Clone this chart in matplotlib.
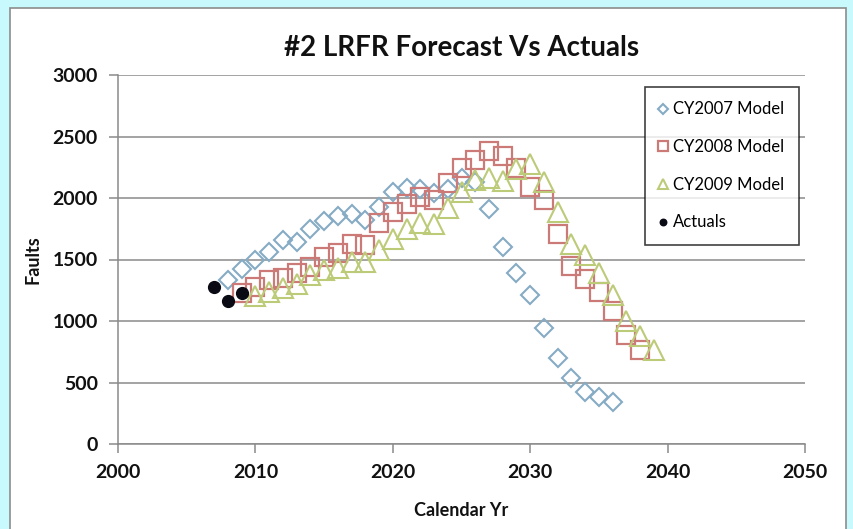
import matplotlib
matplotlib.use("Agg")
import matplotlib.pyplot as plt
from matplotlib.patches import Rectangle

# ---- data ----
years_2007 = list(range(2008, 2037))
cy2007 = [1330, 1420, 1500, 1565, 1655, 1645, 1745, 1810, 1855, 1870, 1820, 1925,
          2045, 2085, 2075, 2040, 2075, 2165, 2130, 1910, 1600, 1390, 1215, 940,
          700, 535, 425, 385, 345]

years_2008 = list(range(2009, 2039))
cy2008 = [1230, 1280, 1330, 1350, 1390, 1440, 1520, 1555, 1630, 1620, 1795, 1890,
          1955, 2010, 1985, 2125, 2245, 2310, 2385, 2340, 2240, 2090, 1985, 1710,
          1450, 1345, 1235, 1085, 890, 768]

years_2009 = list(range(2010, 2040))
cy2009 = [1205, 1235, 1270, 1300, 1375, 1415, 1430, 1480, 1480, 1575, 1670, 1750,
          1800, 1785, 1920, 2045, 2150, 2165, 2140, 2235, 2280, 2130, 1890, 1630,
          1535, 1390, 1215, 1000, 875, 765]

years_act = [2007, 2008, 2009]
actuals = [1275, 1160, 1230]

title = "#2 LRFR Forecast Vs Actuals"
xlabel = "Calendar Yr"
ylabel = "Faults"
xticks = [2000, 2010, 2020, 2030, 2040, 2050]
yticks = [0, 500, 1000, 1500, 2000, 2500, 3000]

plt.rcParams['font.family'] = ['Lato', 'DejaVu Sans']

W, H = 854, 529
fig = plt.figure(figsize=(W / 100, H / 100), dpi=100)
fig.patch.set_facecolor('#c8f9fd')
# white chart area with grey border
bg = Rectangle((10 / W, -0.05), 836 / W, 1 - 8 / H + 0.05,
               transform=fig.transFigure, facecolor='white',
               edgecolor='#8c8c8c', linewidth=1.2, zorder=-10)
fig.add_artist(bg)

ax = fig.add_axes([118 / W, 1 - 444 / H, (805 - 118) / W, (444 - 75) / H])
ax.set_zorder(5)
ax.set_facecolor('white')

ax.plot(years_2007, cy2007, linestyle='none', marker='D', ms=9.5, mfc='none',
        mec='#86abc4', mew=1.5, label='CY2007 Model', zorder=3)
ax.plot(years_2008, cy2008, linestyle='none', marker='s', ms=13.5, mfc='none',
        mec='#cc7a78', mew=1.6, label='CY2008 Model', zorder=3)
ax.plot(years_2009, cy2009, linestyle='none', marker='^', ms=14, mfc='none',
        mec='#bccb78', mew=1.5, label='CY2009 Model', zorder=3)
ax.plot(years_act, actuals, linestyle='none', marker='o', ms=8.5, mfc='#0a0a14',
        mec='#0a0a14', label='Actuals', zorder=4)

ax.set_xlim(2000, 2050)
ax.set_ylim(0, 3000)
ax.set_xticks(xticks)
ax.set_yticks(yticks)
ax.yaxis.grid(True, color='#8a8a8a', linewidth=1.1)
ax.set_axisbelow(True)
for s in ['top', 'right']:
    ax.spines[s].set_visible(False)
for s in ['left', 'bottom']:
    ax.spines[s].set_color('#8a8a8a')
    ax.spines[s].set_linewidth(1.1)
ax.tick_params(axis='both', colors='#8a8a8a', length=6.5, width=1.1,
               labelcolor='#111111', labelsize=14)
ax.tick_params(axis='x', direction='out', pad=8)
ax.tick_params(axis='y', direction='out', pad=8)
for lab in ax.get_xticklabels() + ax.get_yticklabels():
    lab.set_fontweight('bold')

ax.set_title(title, fontsize=20, fontweight='bold', pad=14, color='#111111')
ax.set_xlabel(xlabel, fontsize=13, fontweight='bold', labelpad=15, color='#111111')
ax.set_ylabel(ylabel, fontsize=13, fontweight='bold', labelpad=8, color='#111111')

leg = ax.legend(loc='upper left', bbox_to_anchor=(0.767, 0.967), frameon=True,
                fancybox=False, edgecolor='#111111', fontsize=12,
                markerscale=0.55, handlelength=0.5, handletextpad=0.35,
                labelspacing=1.3, borderpad=0.85, borderaxespad=0)
leg.get_frame().set_linewidth(1.2)

fig.savefig('out.png', dpi=100, facecolor=fig.get_facecolor())
